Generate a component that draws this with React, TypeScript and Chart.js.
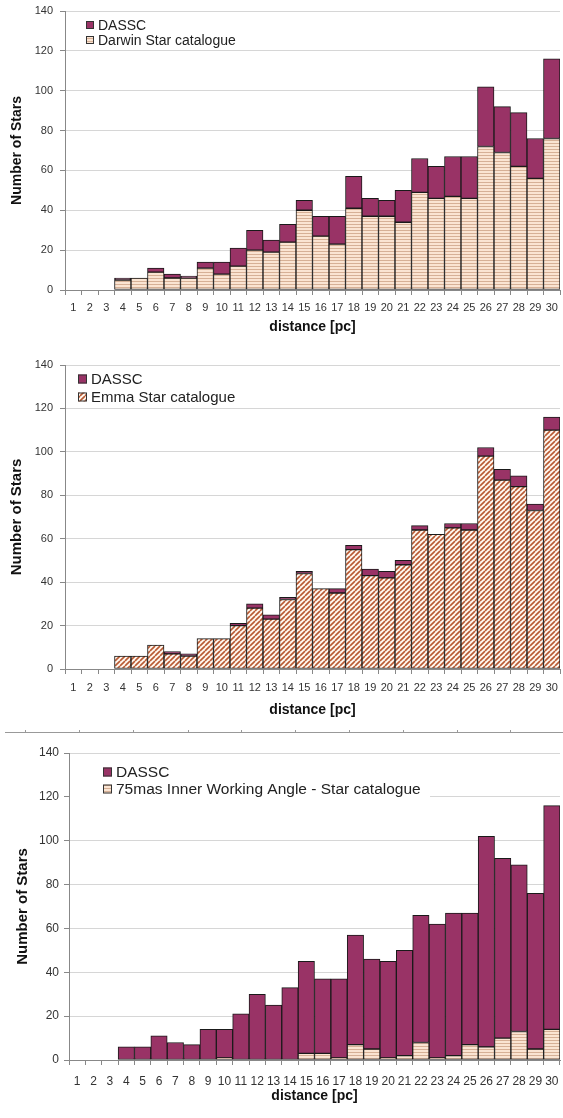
import React, { useEffect, useRef } from 'react';
import { Chart, registerables } from 'chart.js';
Chart.register(...registerables);

const distances = ['1','2','3','4','5','6','7','8','9','10','11','12','13','14','15','16','17','18','19','20','21','22','23','24','25','26','27','28','29','30'];
const dasscTotal = [0,0,0,6,6,11,8,7,14,14,21,30,25,33,45,37,37,57,46,45,50,66,62,67,67,102,92,89,76,116];
const darwinStars = [0,0,0,5,6,9,6,6,11,8,12,20,19,24,40,27,23,41,37,37,34,49,46,47,46,72,69,62,56,76];
const emmaStars = [0,0,0,6,6,11,7,6,14,14,20,28,23,32,44,37,35,55,43,42,48,64,62,65,64,98,87,84,73,110];
const iwa75Stars = [0,0,0,0,0,0,0,0,0,1,0,0,0,0,3,3,1,7,5,1,2,8,1,2,7,6,10,13,5,14];
const yMin = 0;
const yMax = 140;
const yStep = 20;

const PURPLE = '#993366';
const FONT = '"Liberation Sans", Arial, sans-serif';

function makeHStripe(): CanvasPattern | string {
  const c = document.createElement('canvas');
  c.width = 4; c.height = 3;
  const g = c.getContext('2d');
  if (!g) return '#F8E2D0';
  g.fillStyle = '#FAE4D2'; g.fillRect(0, 0, 4, 3);
  g.fillStyle = '#D6B096'; g.fillRect(0, 2, 4, 1);
  return g.createPattern(c, 'repeat') || '#F8E2D0';
}
function makeDiag(): CanvasPattern | string {
  const s = 5;
  const c = document.createElement('canvas');
  c.width = s; c.height = s;
  const g = c.getContext('2d');
  if (!g) return '#E0A080';
  g.fillStyle = '#FFF6EE'; g.fillRect(0, 0, s, s);
  g.strokeStyle = '#B85A34'; g.lineWidth = 1.6;
  g.beginPath();
  for (const k of [-s, 0, s]) { g.moveTo(k, s); g.lineTo(k + s, 0); }
  g.stroke();
  return g.createPattern(c, 'repeat') || '#E0A080';
}

const legendPlugin = {
  id: 'innerLegend',
  beforeDatasetsDraw(chart: any, _a: any, opts: any) {
    const ctx = chart.ctx as CanvasRenderingContext2D;
    ctx.save();
    if (opts.box) {
      ctx.fillStyle = '#fff';
      ctx.fillRect(opts.box.x, opts.box.y, opts.box.w, opts.box.h);
    }
    const order = [1, 0];
    order.forEach((di, i) => {
      const ds = chart.data.datasets[di];
      const y = opts.y + i * opts.gap;
      const m = opts.marker;
      ctx.fillStyle = ds.backgroundColor;
      ctx.fillRect(opts.x, y - m / 2, m, m);
      ctx.strokeStyle = '#333';
      ctx.lineWidth = 1;
      ctx.strokeRect(opts.x + 0.5, y - m / 2 + 0.5, m - 1, m - 1);
      ctx.fillStyle = '#222';
      ctx.font = `${opts.font}px ${FONT}`;
      ctx.textBaseline = 'middle';
      ctx.textAlign = 'left';
      ctx.fillText(ds.label, opts.textX, y + 1);
    });
    ctx.restore();
  },
};

type PanelProps = {
  top: number; height: number; padTop: number; yWidth: number; xHeight: number;
  subset: number[]; subsetLabel: string; pattern: 'h' | 'd';
  tickFont: number; xTitleFont: number; yTitleFont: number; yTitlePad: number; tickPad: number; yTickPad: number;
  legend: any;
};

function Panel(p: PanelProps) {
  const ref = useRef<HTMLCanvasElement>(null);
  useEffect(() => {
    if (!ref.current) return;
    const fill = p.pattern === 'h' ? makeHStripe() : makeDiag();
    const remainder = dasscTotal.map((t, i) => t - p.subset[i]);
    const chart = new Chart(ref.current, {
      type: 'bar',
      data: {
        labels: distances,
        datasets: [
          {
            label: p.subsetLabel,
            data: p.subset.map((v) => (v === 0 ? null : v)),
            backgroundColor: fill as any,
            borderColor: '#1a1a1a', borderWidth: 1, borderSkipped: false,
            barPercentage: 1, categoryPercentage: 1,
          },
          {
            label: 'DASSC',
            data: remainder.map((v) => (v === 0 ? null : v)),
            backgroundColor: PURPLE,
            borderColor: '#1a1a1a', borderWidth: 1, borderSkipped: false,
            barPercentage: 1, categoryPercentage: 1,
          },
        ],
      },
      options: {
        responsive: false,
        animation: false,
        layout: { padding: { top: p.padTop, right: 3, left: 0, bottom: 0 } },
        plugins: {
          legend: { display: false },
          tooltip: { enabled: false },
          innerLegend: p.legend,
        } as any,
        scales: {
          x: {
            stacked: true,
            offset: true,
            grid: { display: true, offset: true, drawOnChartArea: false, drawTicks: true, tickLength: 5, color: '#888' },
            border: { display: true, color: '#888' },
            ticks: { font: { family: FONT, size: p.tickFont }, color: '#333', padding: p.tickPad, maxRotation: 0, autoSkip: false },
            title: { display: true, text: 'distance [pc]', font: { family: FONT, size: p.xTitleFont, weight: 'bold' }, color: '#111', padding: { top: 0, bottom: 0 } },
            afterFit: (s: any) => { s.height = p.xHeight; s.paddingLeft = 0; s.paddingRight = 0; },
          },
          y: {
            stacked: true,
            min: yMin, max: yMax,
            grid: { color: '#d6d6d6', drawTicks: true, tickLength: 5, tickColor: '#888' },
            border: { display: true, color: '#888' },
            ticks: { stepSize: yStep, font: { family: FONT, size: p.tickFont }, color: '#333', padding: p.yTickPad },
            title: { display: true, text: 'Number of Stars', font: { family: FONT, size: p.yTitleFont, weight: 'bold' }, color: '#111', padding: { top: p.yTitlePad, bottom: 0 } },
            afterFit: (s: any) => { s.width = p.yWidth; s.paddingTop = 0; s.paddingBottom = 0; },
          },
        },
      },
      plugins: [legendPlugin],
    } as any);
    return () => chart.destroy();
  }, []);
  return (
    <canvas
      ref={ref}
      width={563}
      height={p.height}
      style={{ position: 'absolute', left: 0, top: p.top, width: 563, height: p.height }}
    />
  );
}

export default function App() {
  const sepTicks = [25, 79, 133, 188, 241, 295, 349, 403, 457, 510];
  return (
    <div style={{ position: 'absolute', left: 0, top: 0, width: 563, height: 1118, background: '#fff', overflow: 'hidden' }}>
      <Panel
        top={0} height={336} padTop={11} yWidth={65} xHeight={46}
        subset={darwinStars} subsetLabel="Darwin Star catalogue" pattern="h"
        tickFont={11} xTitleFont={14} yTitleFont={14} yTitlePad={9} tickPad={6} yTickPad={7}
        legend={{ x: 86, textX: 98, y: 25, gap: 15, marker: 8, font: 14 }}
      />
      <Panel
        top={336} height={383} padTop={29} yWidth={65} xHeight={50}
        subset={emmaStars} subsetLabel="Emma Star catalogue" pattern="d"
        tickFont={11} xTitleFont={14} yTitleFont={15} yTitlePad={8} tickPad={7} yTickPad={7}
        legend={{ x: 78, textX: 91, y: 43, gap: 18, marker: 9, font: 15 }}
      />
      <div style={{ position: 'absolute', left: 5, top: 732, width: 558, height: 1, background: '#999' }} />
      {sepTicks.map((x) => (
        <div key={x} style={{ position: 'absolute', left: x, top: 730, width: 1, height: 3, background: '#999' }} />
      ))}
      <Panel
        top={738} height={367} padTop={15} yWidth={69} xHeight={45}
        subset={iwa75Stars} subsetLabel="75mas Inner Working Angle - Star catalogue" pattern="h"
        tickFont={12} xTitleFont={14} yTitleFont={15} yTitlePad={14} tickPad={9} yTickPad={5}
        legend={{ x: 103, textX: 116, y: 34, gap: 17, marker: 9, font: 15.5, box: { x: 70, y: 20, w: 360, h: 43 } }}
      />
    </div>
  );
}
